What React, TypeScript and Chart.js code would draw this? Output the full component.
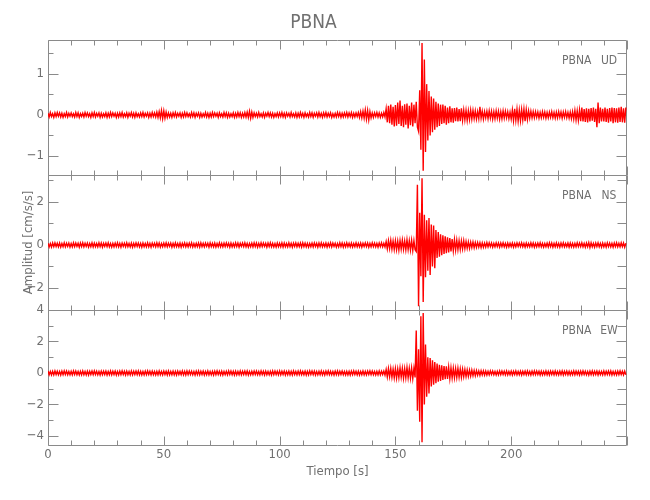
import React, { useEffect, useRef } from 'react';
import { Chart, registerables } from 'chart.js';

Chart.register(...registerables);

// ---------- data (amplitudes in units of 0.01 cm/s/s, one sample every 0.5 s) ----------
const STATION = 'PBNA';
const SAMPLE_INTERVAL = 0.5; // s
const X_MAX = 250;
const xTickLabels = [0, 50, 100, 150, 200];
const X_MINOR_STEP = 10;
const X_MAJOR_STEP = 50;

const udAmp = [
  4,-5,6,-4,3,-6,5,-4,6,-3, 5,-5,4,-6,3,-4,6,-5,4,-3,
  5,-4,3,-5,6,-4,5,-6,3,-4, 4,-5,6,-3,5,-4,3,-6,5,-4,
  6,-5,4,-3,5,-6,4,-5,3,-4, 5,-6,4,-5,6,-4,5,-3,4,-6,
  4,-5,5,-4,6,-5,3,-4,5,-6, 4,-3,6,-5,4,-6,5,-4,3,-5,
  5,-4,6,-5,4,-3,5,-6,4,-5, 6,-4,5,-5,7,-6,8,-7,11,-9,
  10,-8,7,-6,5,-5,4,-6,5,-4, 6,-5,4,-3,5,-6,4,-5,6,-4,
  5,-4,3,-5,6,-4,5,-6,4,-3, 5,-6,4,-5,3,-4,6,-5,4,-6,
  4,-5,6,-4,5,-3,4,-6,5,-4, 3,-5,6,-4,5,-6,4,-5,3,-4,
  5,-6,4,-5,6,-4,5,-6,4,-5, 6,-5,7,-6,9,-8,7,-6,5,-4,
  4,-5,6,-4,3,-5,5,-6,4,-3, 6,-4,5,-5,4,-6,3,-4,5,-5,
  5,-4,6,-5,4,-6,5,-3,4,-5, 6,-4,3,-5,5,-6,4,-5,6,-4,
  4,-6,5,-4,3,-5,6,-4,5,-6, 4,-3,5,-5,6,-4,4,-6,5,-4,
  6,-5,4,-4,5,-6,3,-5,4,-5, 6,-4,5,-6,4,-5,5,-4,6,-5,
  5,-4,6,-6,4,-5,5,-4,6,-6, 8,-7,9,-8,12,-10,11,-12,8,-7,
  5,-6,5,-4,6,-5,5,-6,4,-5, 6,-5,15,-18,22,-20,25,-24,20,-28,
  24,-26,30,-22,35,-27,22,-30,26,-24, 28,-33,22,-25,30,-28,25,-20,32,-30,
  -40,60,-85,175,-136,135,-90,75,-62,58, -50,45,-42,40,-36,32,-30,28,-27,25,
  -22,25,-20,22,-24,18,-20,21,-18,16, -19,17,-15,18,-16,14,-15,16,-13,12,
  -12,11,-13,10,-11,12,-10,11,-9,10, -10,8,-9,20,-8,9,-10,8,-7,9,
  -9,10,-8,9,-10,8,-9,10,-8,9, -10,8,-9,10,-8,9,-7,8,-9,7,
  -10,12,-14,15,-13,14,-15,12,-14,13, -12,14,-15,13,-11,10,-8,9,-7,8,
  -7,8,-6,7,-8,6,-7,8,-6,7, -8,6,-7,7,-6,8,-7,6,-8,7,
  -7,8,-6,7,-8,7,-6,8,-7,6, -8,7,-9,8,-10,11,-12,10,-13,12,
  -15,18,-16,14,-17,16,-18,15,-16,17, -14,18,-17,15,-30,30,-20,18,-16,15,
  -16,18,-17,15,-19,17,-16,18,-20,17, -18,16,-19,18,-17,20,-18,16,-19,18,
];

const nsAmp = [
  8,-9,7,-10,9,-8,10,-7,8,-9, 9,-10,7,-8,10,-9,8,-7,9,-10,
  7,-9,10,-8,9,-7,8,-10,9,-8, 10,-9,8,-7,9,-10,7,-8,10,-9,
  9,-8,7,-9,10,-8,9,-10,8,-7, 9,-8,10,-9,7,-10,8,-9,9,-8,
  10,-9,8,-10,9,-7,8,-9,10,-8, 7,-9,9,-10,8,-8,10,-7,9,-9,
  8,-10,9,-8,7,-9,10,-9,8,-10, 9,-7,8,-9,10,-8,9,-10,7,-8,
  9,-8,10,-9,8,-7,9,-10,8,-9, 10,-8,7,-9,9,-10,8,-7,10,-9,
  8,-9,9,-8,10,-10,7,-9,8,-8, 9,-10,10,-8,8,-9,9,-7,8,-10,
  10,-8,8,-9,9,-10,7,-8,10,-9, 8,-9,9,-8,10,-7,8,-10,9,-9,
  7,-9,10,-8,9,-10,8,-7,9,-8, 10,-9,8,-10,7,-8,9,-9,10,-8,
  9,-10,8,-9,10,-8,9,-7,8,-10, 9,-8,10,-9,8,-9,7,-10,9,-8,
  8,-9,10,-10,9,-8,7,-9,10,-8, 8,-10,9,-7,10,-9,8,-8,9,-10,
  10,-8,9,-9,8,-10,7,-8,9,-9, 10,-7,8,-10,9,-8,10,-9,7,-8,
  9,-10,8,-8,10,-9,9,-7,8,-10, 7,-9,10,-8,9,-10,8,-9,10,-8,
  8,-9,9,-10,7,-8,10,-9,8,-9, 9,-10,8,-7,10,-8,9,-10,8,-9,
  10,-8,9,-9,8,-10,9,-8,10,-9, 8,-9,16,-18,20,-17,22,-19,18,-21,
  20,-22,18,-24,21,-19,23,-20,19,-22, 24,-21,20,-23,22,-25,20,-22,-30,280,
  -285,150,-145,310,-265,140,-150,115,-120,125, -140,95,-100,90,-108,70,-60,60,-55,50,
  -48,45,-42,40,-38,36,-35,32,-30,28, -27,25,-24,22,-22,20,-21,19,-18,20,
  -17,16,-15,14,-16,13,-12,14,-13,12, -11,12,-10,11,-12,10,-11,9,-10,11,
  -9,10,-8,9,-10,8,-9,10,-8,9, -10,9,-8,10,-9,8,-10,9,-9,8,
  -8,9,-10,8,-9,10,-7,9,-8,10, -9,8,-10,9,-8,7,-9,10,-8,9,
  -10,8,-9,9,-8,10,-9,8,-10,7, -8,9,-9,10,-8,9,-10,8,-9,10,
  -9,8,-10,9,-8,10,-9,7,-8,9, -10,9,-9,8,-10,8,-9,10,-8,9,
  -8,10,-9,8,-10,9,-8,11,-12,10, -9,8,-10,9,-8,10,-9,8,-10,9,
  -9,8,-10,10,-8,9,-9,8,-10,9, -8,10,-9,8,-9,10,-8,9,-10,8,
];

const ewAmp = [
  12,-11,10,-13,11,-12,13,-10,11,-12, 10,-13,12,-11,13,-10,12,-11,10,-12,
  11,-12,13,-10,12,-11,10,-13,11,-12, 13,-11,10,-12,12,-13,11,-10,12,-11,
  13,-10,11,-12,10,-13,12,-11,11,-10, 12,-13,10,-11,13,-12,11,-10,12,-13,
  10,-12,12,-11,13,-10,11,-13,12,-11, 10,-12,13,-12,11,-10,12,-11,13,-12,
  11,-13,10,-12,12,-11,13,-10,11,-12, 12,-11,10,-13,11,-12,13,-11,10,-12,
  12,-10,11,-13,13,-12,10,-11,12,-12, 11,-13,12,-10,10,-11,13,-12,11,-13,
  13,-11,12,-10,11,-12,10,-13,12,-11, 13,-12,11,-10,12,-13,10,-11,13,-12,
  10,-12,11,-13,12,-11,13,-10,11,-12, 12,-13,10,-11,11,-12,13,-10,12,-11,
  11,-13,12,-12,10,-11,13,-12,11,-10, 12,-11,13,-13,10,-12,11,-11,12,-10,
  12,-11,10,-12,13,-10,11,-13,12,-11, 10,-12,11,-13,13,-11,12,-10,11,-12,
  13,-12,11,-10,12,-13,10,-11,12,-12, 11,-13,13,-10,10,-12,12,-11,13,-11,
  10,-11,12,-13,11,-12,13,-10,12,-11, 12,-13,10,-12,11,-11,13,-12,10,-13,
  12,-10,13,-11,11,-12,10,-13,12,-11, 13,-12,11,-10,12,-11,10,-13,11,-12,
  11,-13,12,-11,13,-10,11,-12,12,-13, 10,-11,13,-12,11,-12,12,-10,13,-11,
  12,-11,10,-13,11,-12,13,-12,11,-10, 12,-13,22,-25,28,-24,30,-27,25,-30,
  28,-32,26,-29,33,-27,30,-34,28,-31, 35,-30,29,-33,32,-36,30,-28,270,-240,
  150,-310,360,-440,380,-200,180,-150,100,-130, 95,-85,80,-75,70,-65,60,-55,52,-50,
  48,-45,44,-40,42,-38,36,-35,33,-32, 30,-31,28,-29,30,-27,26,-28,25,-24,
  22,-23,20,-21,19,-20,18,-17,16,-18, 15,-14,13,-15,14,-12,13,-14,12,-13,
  11,-12,13,-10,12,-11,10,-13,11,-12, 13,-11,12,-10,11,-12,13,-12,10,-11,
  12,-13,11,-10,13,-12,10,-11,12,-13, 11,-10,12,-12,13,-11,10,-13,12,-11,
  13,-11,12,-10,11,-13,12,-12,10,-11, 13,-12,11,-13,12,-10,11,-12,13,-11,
  10,-12,12,-11,13,-13,11,-10,12,-12, 11,-13,10,-11,13,-12,12,-10,11,-13,
  12,-11,13,-10,11,-12,10,-13,12,-11, 13,-12,11,-10,12,-13,11,-11,10,-12,
  13,-12,11,-10,12,-11,13,-13,10,-12, 11,-12,12,-11,13,-10,11,-12,12,-11,
];

// axis ranges and ticks for each component panel (cm/s/s)
const udRange = [-1.46, 1.83];
const udTicks = [-1, 0, 1];
const udMinorTicks = [-0.5, 0.5, 1.5];
const nsRange = [-3.02, 3.26];
const nsTicks = [-2, 0, 2];
const nsMinorTicks = [-3, -1, 1, 3];
const ewRange = [-4.57, 4.0];
const ewTicks = [-4, -2, 0, 2, 4];
const ewMinorTicks = [-3, -1, 1, 3];

// ---------- style ----------
const FONT = '"Liberation Sans Narrow", "DejaVu Sans Condensed", "Liberation Sans", sans-serif';
const TEXT_COLOR = '#707070';
const AXIS_COLOR = '#8a8a8a';
const TRACE_COLOR = '#ff0000';

const fmt = (v: number) => (v < 0 ? '\u2212' + Math.abs(v) : String(v));

export default function App() {
  const ref = useRef<HTMLCanvasElement>(null);

  useEffect(() => {
    const canvas = ref.current;
    if (!canvas) return;

    const panels = [
      { id: 'yUD', name: 'UD', amp: udAmp, range: udRange, ticks: udTicks, minor: udMinorTicks, weight: 3 },
      { id: 'yNS', name: 'NS', amp: nsAmp, range: nsRange, ticks: nsTicks, minor: nsMinorTicks, weight: 2 },
      { id: 'yEW', name: 'EW', amp: ewAmp, range: ewRange, ticks: ewTicks, minor: ewMinorTicks, weight: 1 },
    ];

    const datasets = panels.map((p) => ({
      label: `${STATION} ${p.name}`,
      data: p.amp.map((v, i) => ({ x: i * SAMPLE_INTERVAL, y: v / 100 })),
      yAxisID: p.id,
      borderColor: TRACE_COLOR,
      borderWidth: 1.4,
      pointRadius: 0,
      tension: 0,
      fill: false,
    }));

    const scales: any = {
      x: {
        type: 'linear',
        position: 'bottom',
        min: 0,
        max: X_MAX,
        grid: { display: false, drawTicks: false },
        border: { display: false },
        ticks: { color: TEXT_COLOR, font: { family: FONT, size: 13 }, padding: 2, maxRotation: 0, autoSkip: false },
        afterBuildTicks: (s: any) => {
          s.ticks = xTickLabels.map((v) => ({ value: v }));
        },
        afterFit: (s: any) => {
          s.height = 55;
        },
        title: {
          display: true,
          text: 'Tiempo [s]',
          color: TEXT_COLOR,
          font: { family: FONT, size: 13 },
          padding: { top: 0, bottom: 21 },
        },
      },
    };

    panels.forEach((p) => {
      scales[p.id] = {
        type: 'linear',
        position: 'left',
        stack: 'panels',
        stackWeight: 1,
        weight: p.weight,
        min: p.range[0],
        max: p.range[1],
        grid: { display: false, drawTicks: false },
        border: { display: false },
        ticks: {
          color: TEXT_COLOR,
          font: { family: FONT, size: 13 },
          padding: 4,
          autoSkip: false,
          callback: (v: any) => fmt(Number(v)),
        },
        afterBuildTicks: (s: any) => {
          s.ticks = p.ticks.map((v) => ({ value: v }));
        },
        afterFit: (s: any) => {
          s.width = 48;
        },
        title:
          p.name === 'NS'
            ? {
                display: true,
                text: 'Amplitud [cm/s/s]',
                color: TEXT_COLOR,
                font: { family: FONT, size: 13 },
                padding: { top: 21, bottom: 0 },
              }
            : { display: false },
      };
    });

    const framePlugin = {
      id: 'seismoFrames',
      beforeDatasetsDraw(chart: any) {
        const { ctx, chartArea } = chart;
        const xs = chart.scales.x;
        const L = Math.round(chartArea.left) + 0.5;
        const R = Math.round(chartArea.right) - 0.5;
        ctx.save();
        ctx.strokeStyle = AXIS_COLOR;
        ctx.lineWidth = 1;
        ctx.beginPath();
        for (const p of panels) {
          const ys = chart.scales[p.id];
          const T = Math.round(ys.top) + 0.5;
          const B = Math.round(ys.bottom) + 0.5;
          ctx.rect(L, T, R - L, B - T);
          for (let t = 0; t <= X_MAX; t += X_MINOR_STEP) {
            const px = Math.round(xs.getPixelForValue(t)) + 0.5;
            const len = t % X_MAJOR_STEP === 0 ? 9 : 5;
            ctx.moveTo(px, T);
            ctx.lineTo(px, T + len);
            ctx.moveTo(px, B);
            ctx.lineTo(px, B - len);
          }
          for (const v of p.ticks) {
            const py = Math.round(ys.getPixelForValue(v)) + 0.5;
            ctx.moveTo(L, py);
            ctx.lineTo(L + 10, py);
            ctx.moveTo(R, py);
            ctx.lineTo(R - 10, py);
          }
          for (const v of p.minor) {
            const py = Math.round(ys.getPixelForValue(v)) + 0.5;
            ctx.moveTo(L, py);
            ctx.lineTo(L + 5, py);
            ctx.moveTo(R, py);
            ctx.lineTo(R - 9, py);
          }
        }
        ctx.stroke();

        ctx.fillStyle = TEXT_COLOR;
        ctx.font = `12px ${FONT}`;
        ctx.textBaseline = 'middle';
        for (const p of panels) {
          const ys = chart.scales[p.id];
          const y = ys.top + 21;
          ctx.textAlign = 'left';
          ctx.fillText(STATION, chartArea.right - 65, y);
          ctx.textAlign = 'center';
          ctx.fillText(p.name, chartArea.right - 18, y);
        }
        ctx.restore();
      },
    };

    const chart = new Chart(canvas, {
      type: 'line',
      data: { datasets } as any,
      options: {
        animation: false,
        responsive: false,
        maintainAspectRatio: false,
        layout: { padding: { left: 0, right: 23, top: 0, bottom: 0 } },
        plugins: {
          legend: { display: false },
          tooltip: { enabled: false },
          title: {
            display: true,
            text: STATION,
            color: TEXT_COLOR,
            font: { family: FONT, size: 19, weight: 'normal' },
            padding: { top: 12, bottom: 5 },
          },
        },
        scales,
      } as any,
      plugins: [framePlugin],
    });

    return () => chart.destroy();
  }, []);

  return (
    <div style={{ position: 'absolute', left: 0, top: 0, width: 650, height: 500, background: '#fff' }}>
      <canvas ref={ref} width={650} height={500} style={{ width: 650, height: 500, display: 'block' }} />
    </div>
  );
}
